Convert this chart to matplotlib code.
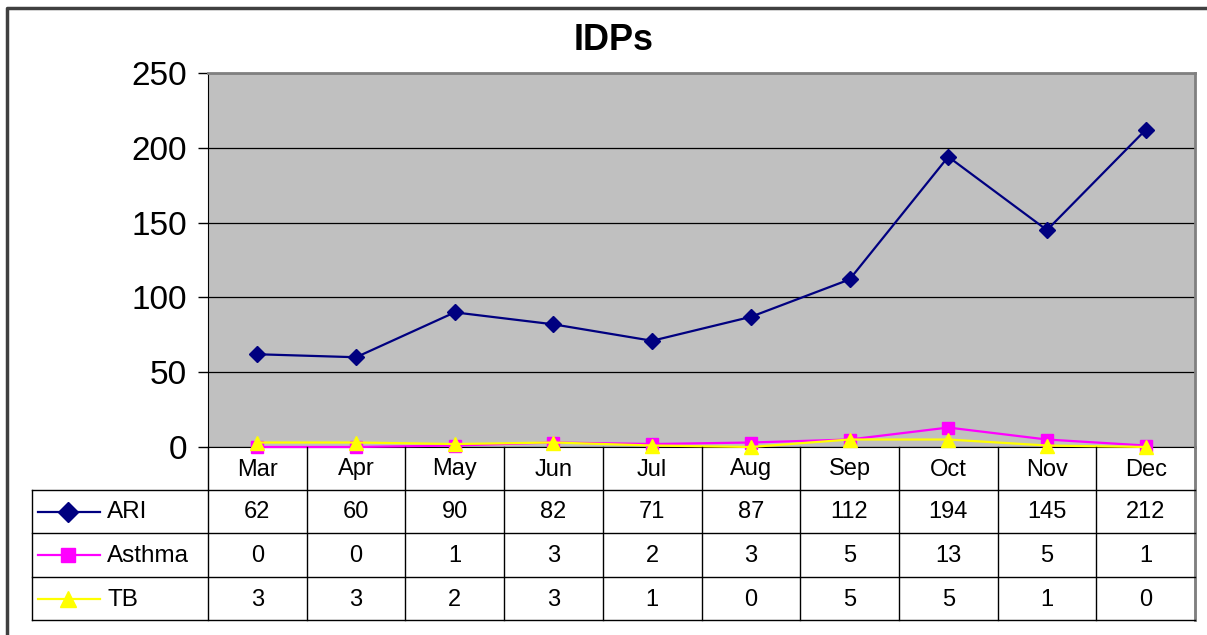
import numpy as np
import matplotlib
matplotlib.use('Agg')
import matplotlib.pyplot as plt

plt.rcParams['font.family'] = ['Liberation Sans', 'DejaVu Sans']

months = ['Mar', 'Apr', 'May', 'Jun', 'Jul', 'Aug', 'Sep', 'Oct', 'Nov', 'Dec']
ari = [62, 60, 90, 82, 71, 87, 112, 194, 145, 212]
asthma = [0, 0, 1, 3, 2, 3, 5, 13, 5, 1]
tb = [3, 3, 2, 3, 1, 0, 5, 5, 1, 0]

series = [('ARI', ari, '#000080', 'D', 8),
          ('Asthma', asthma, '#FF00FF', 's', 8),
          ('TB', tb, '#FFFF00', '^', 10)]

W, H = 1207, 635
fig = plt.figure(figsize=(W / 100, H / 100), dpi=100)

# pixel layout of the plot area
x0, x1 = 208, 1195
ytop, ybot = 73, 447
ax = fig.add_axes([x0 / W, 1 - ybot / H, (x1 - x0) / W, (ybot - ytop) / H])
ax.set_facecolor('#c0c0c0')
n = len(months)
xs = np.arange(n) + 0.5
for name, vals, col, mk, ms in series:
    ax.plot(xs, vals, color=col, marker=mk, markersize=ms, linewidth=1.6,
            clip_on=False, zorder=3)
ax.set_xlim(0, n)
ax.set_ylim(0, 250)
ax.set_yticks(np.arange(0, 251, 50))
ax.set_xticks([])
ax.tick_params(axis='y', labelsize=24, length=7, width=1, direction='out', pad=8)
ax.yaxis.grid(True, color='#000000', linewidth=0.9)
ax.set_axisbelow(True)
ax.spines['left'].set_color('black')
ax.spines['bottom'].set_color('black')
for s in ['top', 'right']:
    ax.spines[s].set_color('#808080')
    ax.spines[s].set_linewidth(2)

# overlay axes in pixel coordinates for table, title and border
ov = fig.add_axes([0, 0, 1, 1], facecolor='none')
ov.set_xlim(0, W)
ov.set_ylim(H, 0)
ov.axis('off')

ov.text(614, 40, 'IDPs', ha='center', va='center', fontsize=26, fontweight='bold')

# outer chart border
ov.plot([7, 7, W + 5], [H + 5, 8, 8], color='#404040', linewidth=2.5)

cw = (x1 - x0) / n
rows = [447, 490, 533, 577, 620]
legx = 32
# vertical lines
for k in range(n + 1):
    ov.plot([x0 + k * cw] * 2, [rows[0], rows[-1]], color='black', linewidth=1)
ov.plot([legx, legx], [rows[1], rows[-1]], color='black', linewidth=1)
ov.plot([x1, x1], [rows[0], rows[-1]], color='#808080', linewidth=2)
for r in rows[1:]:
    ov.plot([legx, x1], [r, r], color='black', linewidth=1)

for k, m in enumerate(months):
    ov.text(x0 + (k + 0.5) * cw, (rows[0] + rows[1]) / 2 + 1, m,
            ha='center', va='center', fontsize=17)

for i, (name, vals, col, mk, ms) in enumerate(series):
    yc = (rows[i + 1] + rows[i + 2]) / 2
    ov.plot([38, 100], [yc, yc], color=col, linewidth=1.6)
    ov.plot([68], [yc], color=col, marker=mk, markersize=ms + 2)
    ov.text(107, yc + 1, name, ha='left', va='center', fontsize=17.5)
    for k, v in enumerate(vals):
        ov.text(x0 + (k + 0.5) * cw, yc + 1, str(v), ha='center', va='center',
                fontsize=17)

fig.savefig('out.png', dpi=100)
